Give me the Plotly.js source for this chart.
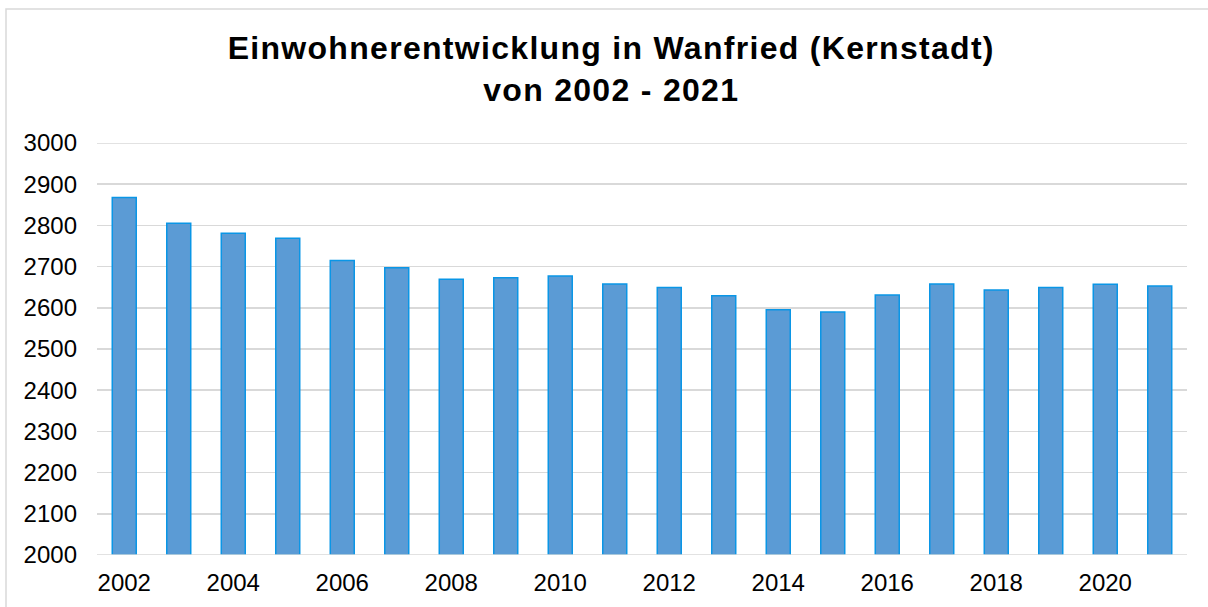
<!DOCTYPE html>
<html>
<head>
<meta charset="utf-8">
<script src="https://cdn.plot.ly/plotly-3.0.1.min.js"></script>
<style>html,body{margin:0;padding:0;background:#fff;}#chart{width:1208px;height:607px;}
.gtitle{letter-spacing:1.3px;}</style>
</head>
<body>
<div id="chart"></div>
<script>
const years = ['2002','2003','2004','2005','2006','2007','2008','2009','2010','2011','2012','2013','2014','2015','2016','2017','2018','2019','2020','2021'];
const population = [2868,2805,2781,2769,2715,2697,2669,2673,2677,2658,2649,2629,2595,2590,2631,2658,2643,2649,2657,2653];
const xTickLabels = ['2002','2004','2006','2008','2010','2012','2014','2016','2018','2020'];
const titleText = 'Einwohnerentwicklung in Wanfried (Kernstadt)<br>von 2002 - 2021';
const yMin = 2000, yMax = 3000;

const trace = {
  type: 'bar',
  x: years,
  y: population.map(v => v - yMin),
  base: yMin,
  marker: {color: '#5B9BD5', line: {color: '#0A96E6', width: 1.5}},
  width: 0.44,
  hoverinfo: 'x+y'
};

const layout = {
  width: 1208, height: 607,
  margin: {l: 97, r: 21, t: 143, b: 52},
  paper_bgcolor: '#ffffff', plot_bgcolor: '#ffffff',
  showlegend: false,
  font: {family: 'Liberation Sans, Arial, sans-serif', color: '#000', size: 24},
  title: {
    text: titleText,
    font: {family: 'Liberation Sans, Arial, sans-serif', size: 32, color: '#000', weight: 'bold'},
    x: 0.506, xanchor: 'center', xref: 'container',
    y: 1 - 59/607, yanchor: 'top', yref: 'container'
  },
  xaxis: {
    type: 'category',
    tickmode: 'array', tickvals: xTickLabels, ticktext: xTickLabels,
    showgrid: false, showline: false, zeroline: false,
    ticks: '', ticklabelstandoff: 11,
    tickfont: {size: 24}
  },
  yaxis: {
    range: [yMin, yMax], dtick: 100, tick0: yMin,
    showgrid: true, gridcolor: '#D9D9D9', gridwidth: 1.5,
    zeroline: false, showline: false, ticks: '',
    ticklabelstandoff: 19,
    tickfont: {size: 24}
  },
  shapes: [
    {type: 'line', xref: 'paper', yref: 'y', x0: 0, x1: 1, y0: yMin, y1: yMin, line: {color: '#D9D9D9', width: 1.5}},
    {type: 'line', xref: 'paper', yref: 'y', x0: 0, x1: 1, y0: yMax, y1: yMax, line: {color: '#D9D9D9', width: 1.5}, layer: 'below'},
    {type: 'rect', xref: 'paper', yref: 'paper', x0: (6-97)/1090, x1: (1230-97)/1090, y0: -0.2, y1: (555-9)/412, line: {color: '#D9D9D9', width: 1.5}, fillcolor: 'rgba(0,0,0,0)', layer: 'below'}
  ]
};

Plotly.newPlot('chart', [trace], layout, {displayModeBar: false, staticPlot: true});
</script>
</body>
</html>
